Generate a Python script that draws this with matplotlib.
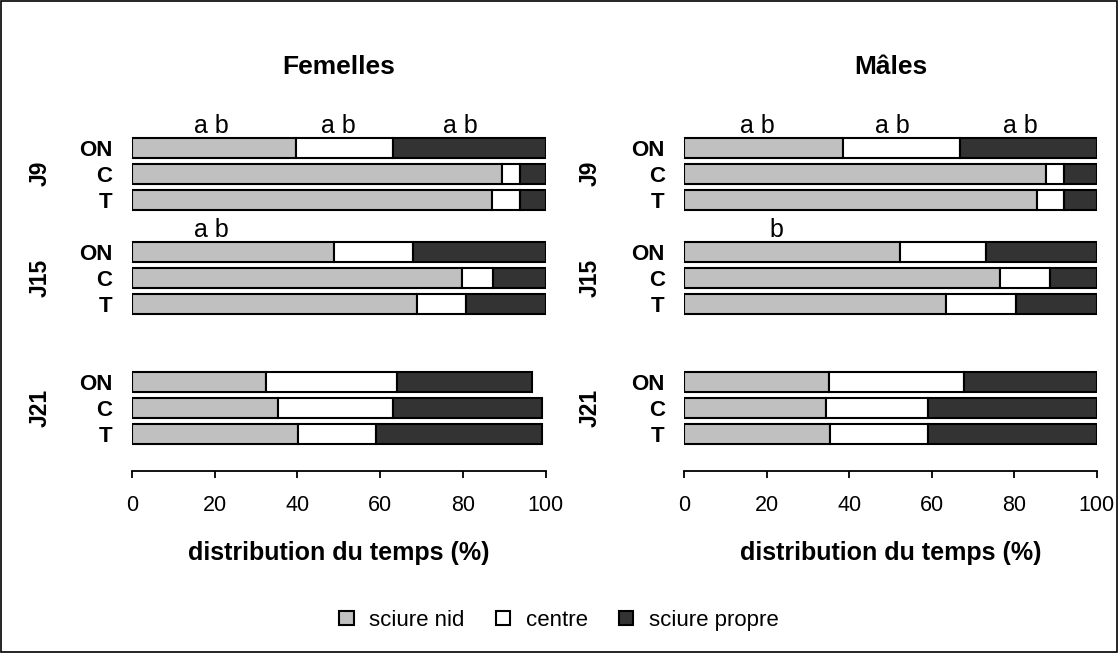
import numpy as np
import matplotlib.pyplot as plt
from matplotlib.patches import Patch, Rectangle

plt.rcParams['font.family'] = ['Liberation Sans', 'DejaVu Sans']

# Données (pourcentages)
traitements = ["ON", "C", "T"]
jours = ["J9", "J15", "J21"]
categories = ["sciure nid", "centre", "sciure propre"]
couleurs = ["#c0c0c0", "#ffffff", "#333333"]

# ordre : J9 ON, C, T, J15 ON, C, T, J21 ON, C, T
fem_nid = [39.6, 89.5, 87.1, 48.8, 79.8, 69.0, 32.4, 35.3, 40.2]
fem_centre = [23.5, 4.2, 6.6, 19.2, 7.6, 11.7, 31.8, 27.8, 18.7]
fem_propre = [36.9, 6.3, 6.3, 32.0, 12.6, 19.3, 32.5, 36.0, 40.2]

mal_nid = [38.4, 87.7, 85.5, 52.3, 76.6, 63.5, 35.0, 34.4, 35.4]
mal_centre = [28.5, 4.4, 6.6, 20.8, 12.1, 16.9, 32.8, 24.6, 23.6]
mal_propre = [33.1, 7.9, 7.9, 26.9, 11.3, 19.6, 32.2, 41.0, 41.0]

# lettres de significativité : (barre, x, texte)
fem_lettres = [(0, 19.3, "a b"), (0, 50.0, "a b"), (0, 79.4, "a b"), (3, 19.3, "a b")]
mal_lettres = [(0, 17.8, "a b"), (0, 50.5, "a b"), (0, 81.6, "a b"), (3, 22.3, "b")]

positions = [0, 1, 2, 4, 5, 6, 9, 10, 11]

fig = plt.figure(figsize=(11.18, 6.53), dpi=100)
fig.patches.append(Rectangle((0.001, 0.002), 0.998, 0.996, transform=fig.transFigure,
                             fill=False, edgecolor="black", linewidth=1.2))

def panneau(ax, nid, centre, propre, lettres, titre, x_jours):
    gauche = np.zeros(len(nid))
    for vals, c in zip([nid, centre, propre], couleurs):
        ax.barh(positions, vals, left=gauche, height=0.78, color=c,
                edgecolor="black", linewidth=1.5)
        gauche = gauche + np.array(vals)
    ax.set_xlim(0, 100)
    ax.set_ylim(12.43, -0.7)
    for s in ["top", "right", "left"]:
        ax.spines[s].set_visible(False)
    ax.spines["bottom"].set_linewidth(1.3)
    ax.set_xticks([0, 20, 40, 60, 80, 100])
    ax.tick_params(axis="x", labelsize=15.5, length=5, width=1.3, pad=12)
    ax.set_yticks(positions)
    ax.set_yticklabels(traitements * 3, fontsize=16, fontweight="bold")
    ax.tick_params(axis="y", length=0, pad=14)
    ax.set_xlabel("distribution du temps (%)", fontsize=18, fontweight="bold", labelpad=18)
    ax.set_title(titre, fontsize=19, fontweight="bold", pad=40)
    for k, j in enumerate(jours):
        ax.text(x_jours, positions[3 * k + 1], j, rotation=90, ha="center", va="center",
                fontsize=16.5, fontweight="bold", transform=ax.get_yaxis_transform())
    for i, x, t in lettres:
        ax.text(x, positions[i] - 0.57, t, ha="center", va="baseline", fontsize=18, clip_on=False)

ax1 = fig.add_axes([0.118, 0.2787, 0.370, 0.523])
ax2 = fig.add_axes([0.612, 0.2787, 0.369, 0.523])
panneau(ax1, fem_nid, fem_centre, fem_propre, fem_lettres, "Femelles", -0.222)
panneau(ax2, mal_nid, mal_centre, mal_propre, mal_lettres, "Mâles", -0.228)

poignees = [Patch(facecolor=c, edgecolor="black", linewidth=1.5, label=l)
            for c, l in zip(couleurs, categories)]
fig.legend(handles=poignees, loc="center", bbox_to_anchor=(0.5, 0.05), ncol=3,
           frameon=False, fontsize=16, handlelength=0.65, handleheight=0.65,
           columnspacing=1.4, handletextpad=0.7)

fig.savefig("out.png", dpi=100)
